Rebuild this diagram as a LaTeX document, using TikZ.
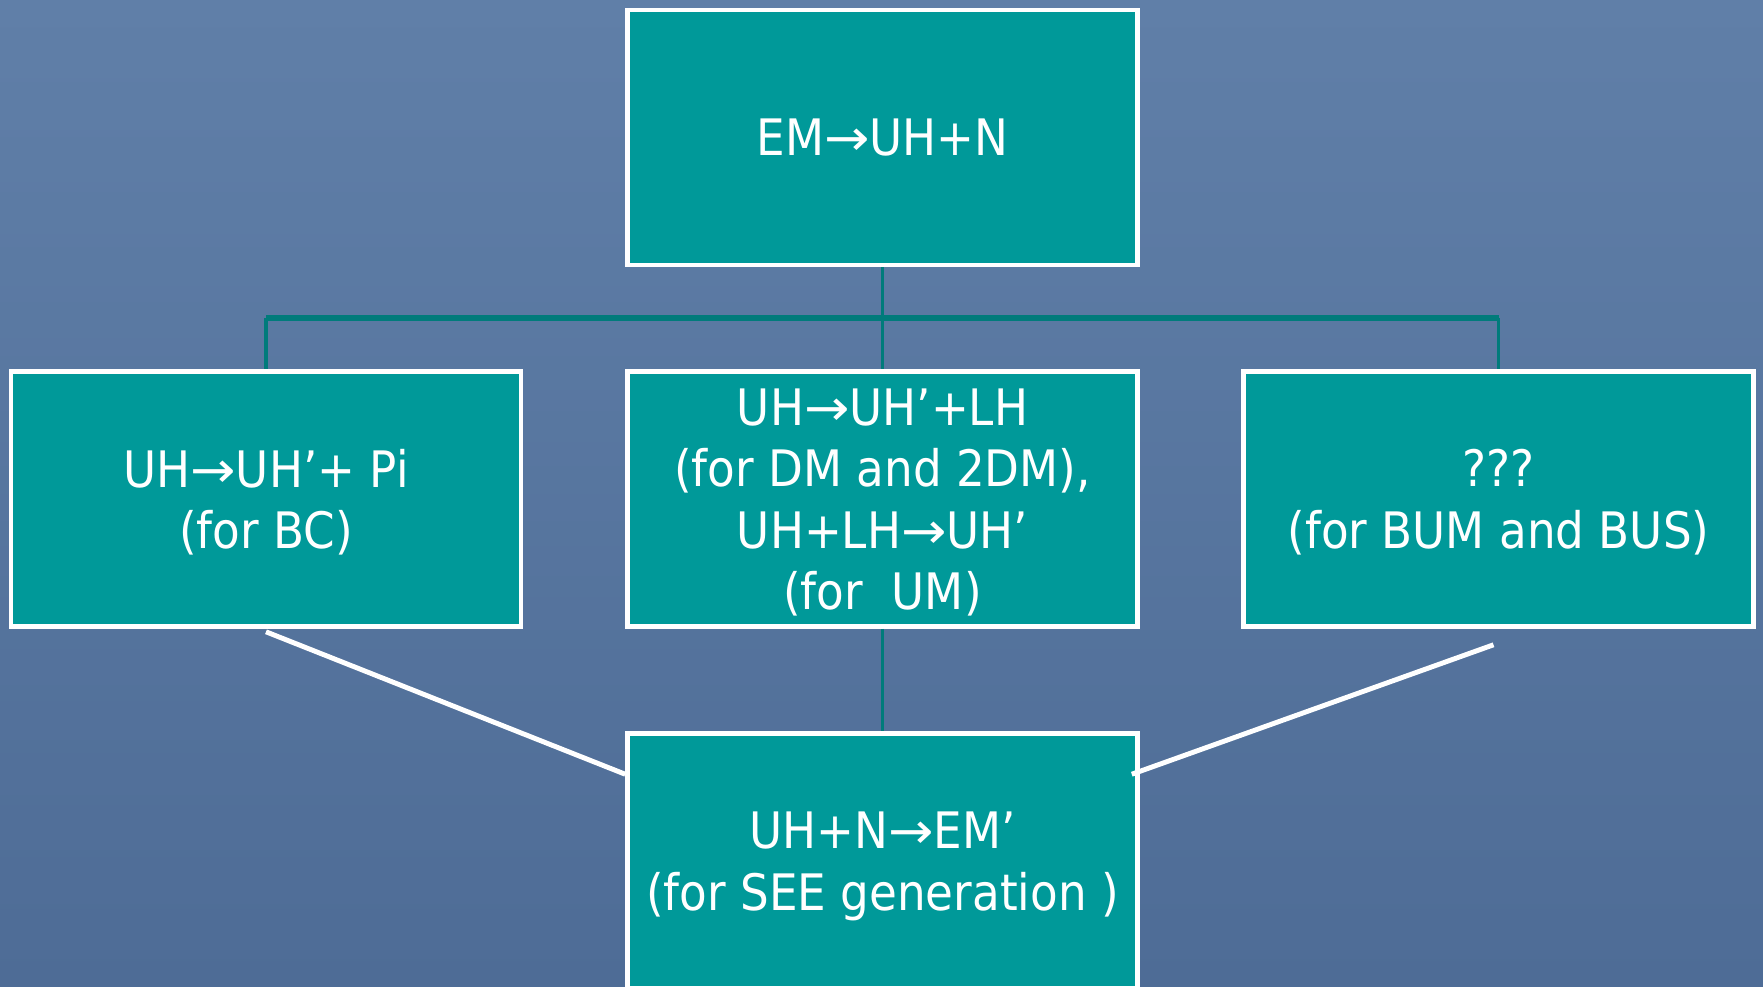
\documentclass[tikz,border=0pt]{standalone}
\usepackage{fontspec}
\setsansfont[FakeStretch=0.9]{DejaVu Sans}
\usetikzlibrary{positioning}
\definecolor{slidetop}{RGB}{96,127,168}
\definecolor{slidebot}{RGB}{78,108,150}
\definecolor{boxfill}{RGB}{0,153,153}
\definecolor{linkteal}{RGB}{0,123,123}
\newcommand{\rto}{\scalebox{1.2}[1]{→}}
\tikzset{
  every picture/.style={font={\sffamily\fontsize{14.3pt}{17.5pt}\selectfont}},
  every node/.style={text=white}}

\begin{document}
\begin{tikzpicture}
    \tikzstyle{stage}=[draw=white, fill=boxfill, line width=1.3pt, align=center,
      minimum width=5.1cm, minimum height=2.55cm, inner sep=0pt, text depth=0pt]
    \tikzstyle{link}=[draw=linkteal, line width=0.9pt]
    \tikzstyle{lead}=[draw=white, line width=1.4pt]

    \fill[top color=slidetop, bottom color=slidebot] (0, 0) rectangle (17.63, -9.86);
    \useasboundingbox (0, 0) rectangle (17.63, -9.86);

    \node[stage] (top)    at (8.825, -1.375) {EM\rto UH+N};
    \node[stage] (left)   at (2.66,  -4.99)  {UH\rto UH’+ Pi\\(for BC)};
    \node[stage] (mid)    at (8.825, -4.99)  {UH\rto UH’+LH\\(for DM and 2DM),\\UH+LH\rto UH’\\(for~ UM)};
    \node[stage] (right)  at (14.985, -4.99) {???\\(for BUM and BUS)};
    \node[stage] (bottom) at (8.825, -8.61)  {UH+N\rto EM’\\(for SEE generation )};

    \begin{scope}
      \coordinate (bar) at (8.825, -3.18);
      \draw[link] (top) -- (bar);
      \draw[linkteal, line width=1.5pt] (bar -| left) -- (bar -| right);
      \draw[link] (bar -| left) -- (left);
      \draw[link] (bar) -- (mid);
      \draw[link] (bar -| right) -- (right);
      \draw[link] (mid) -- (bottom);
    \end{scope}

    \begin{scope}
      \coordinate (lfoot) at ([yshift=-0.03cm]left.south);
      \coordinate (rfoot) at ([xshift=-0.05cm, yshift=-0.16cm]right.south);
      \coordinate (lhead) at ([yshift=-0.43cm]bottom.north west);
      \coordinate (rhead) at ([xshift=-0.08cm, yshift=-0.43cm]bottom.north east);
      \draw[lead] (lfoot) -- (lhead);
      \draw[lead] (rfoot) -- (rhead);
    \end{scope}
  \end{tikzpicture}
\end{document}
